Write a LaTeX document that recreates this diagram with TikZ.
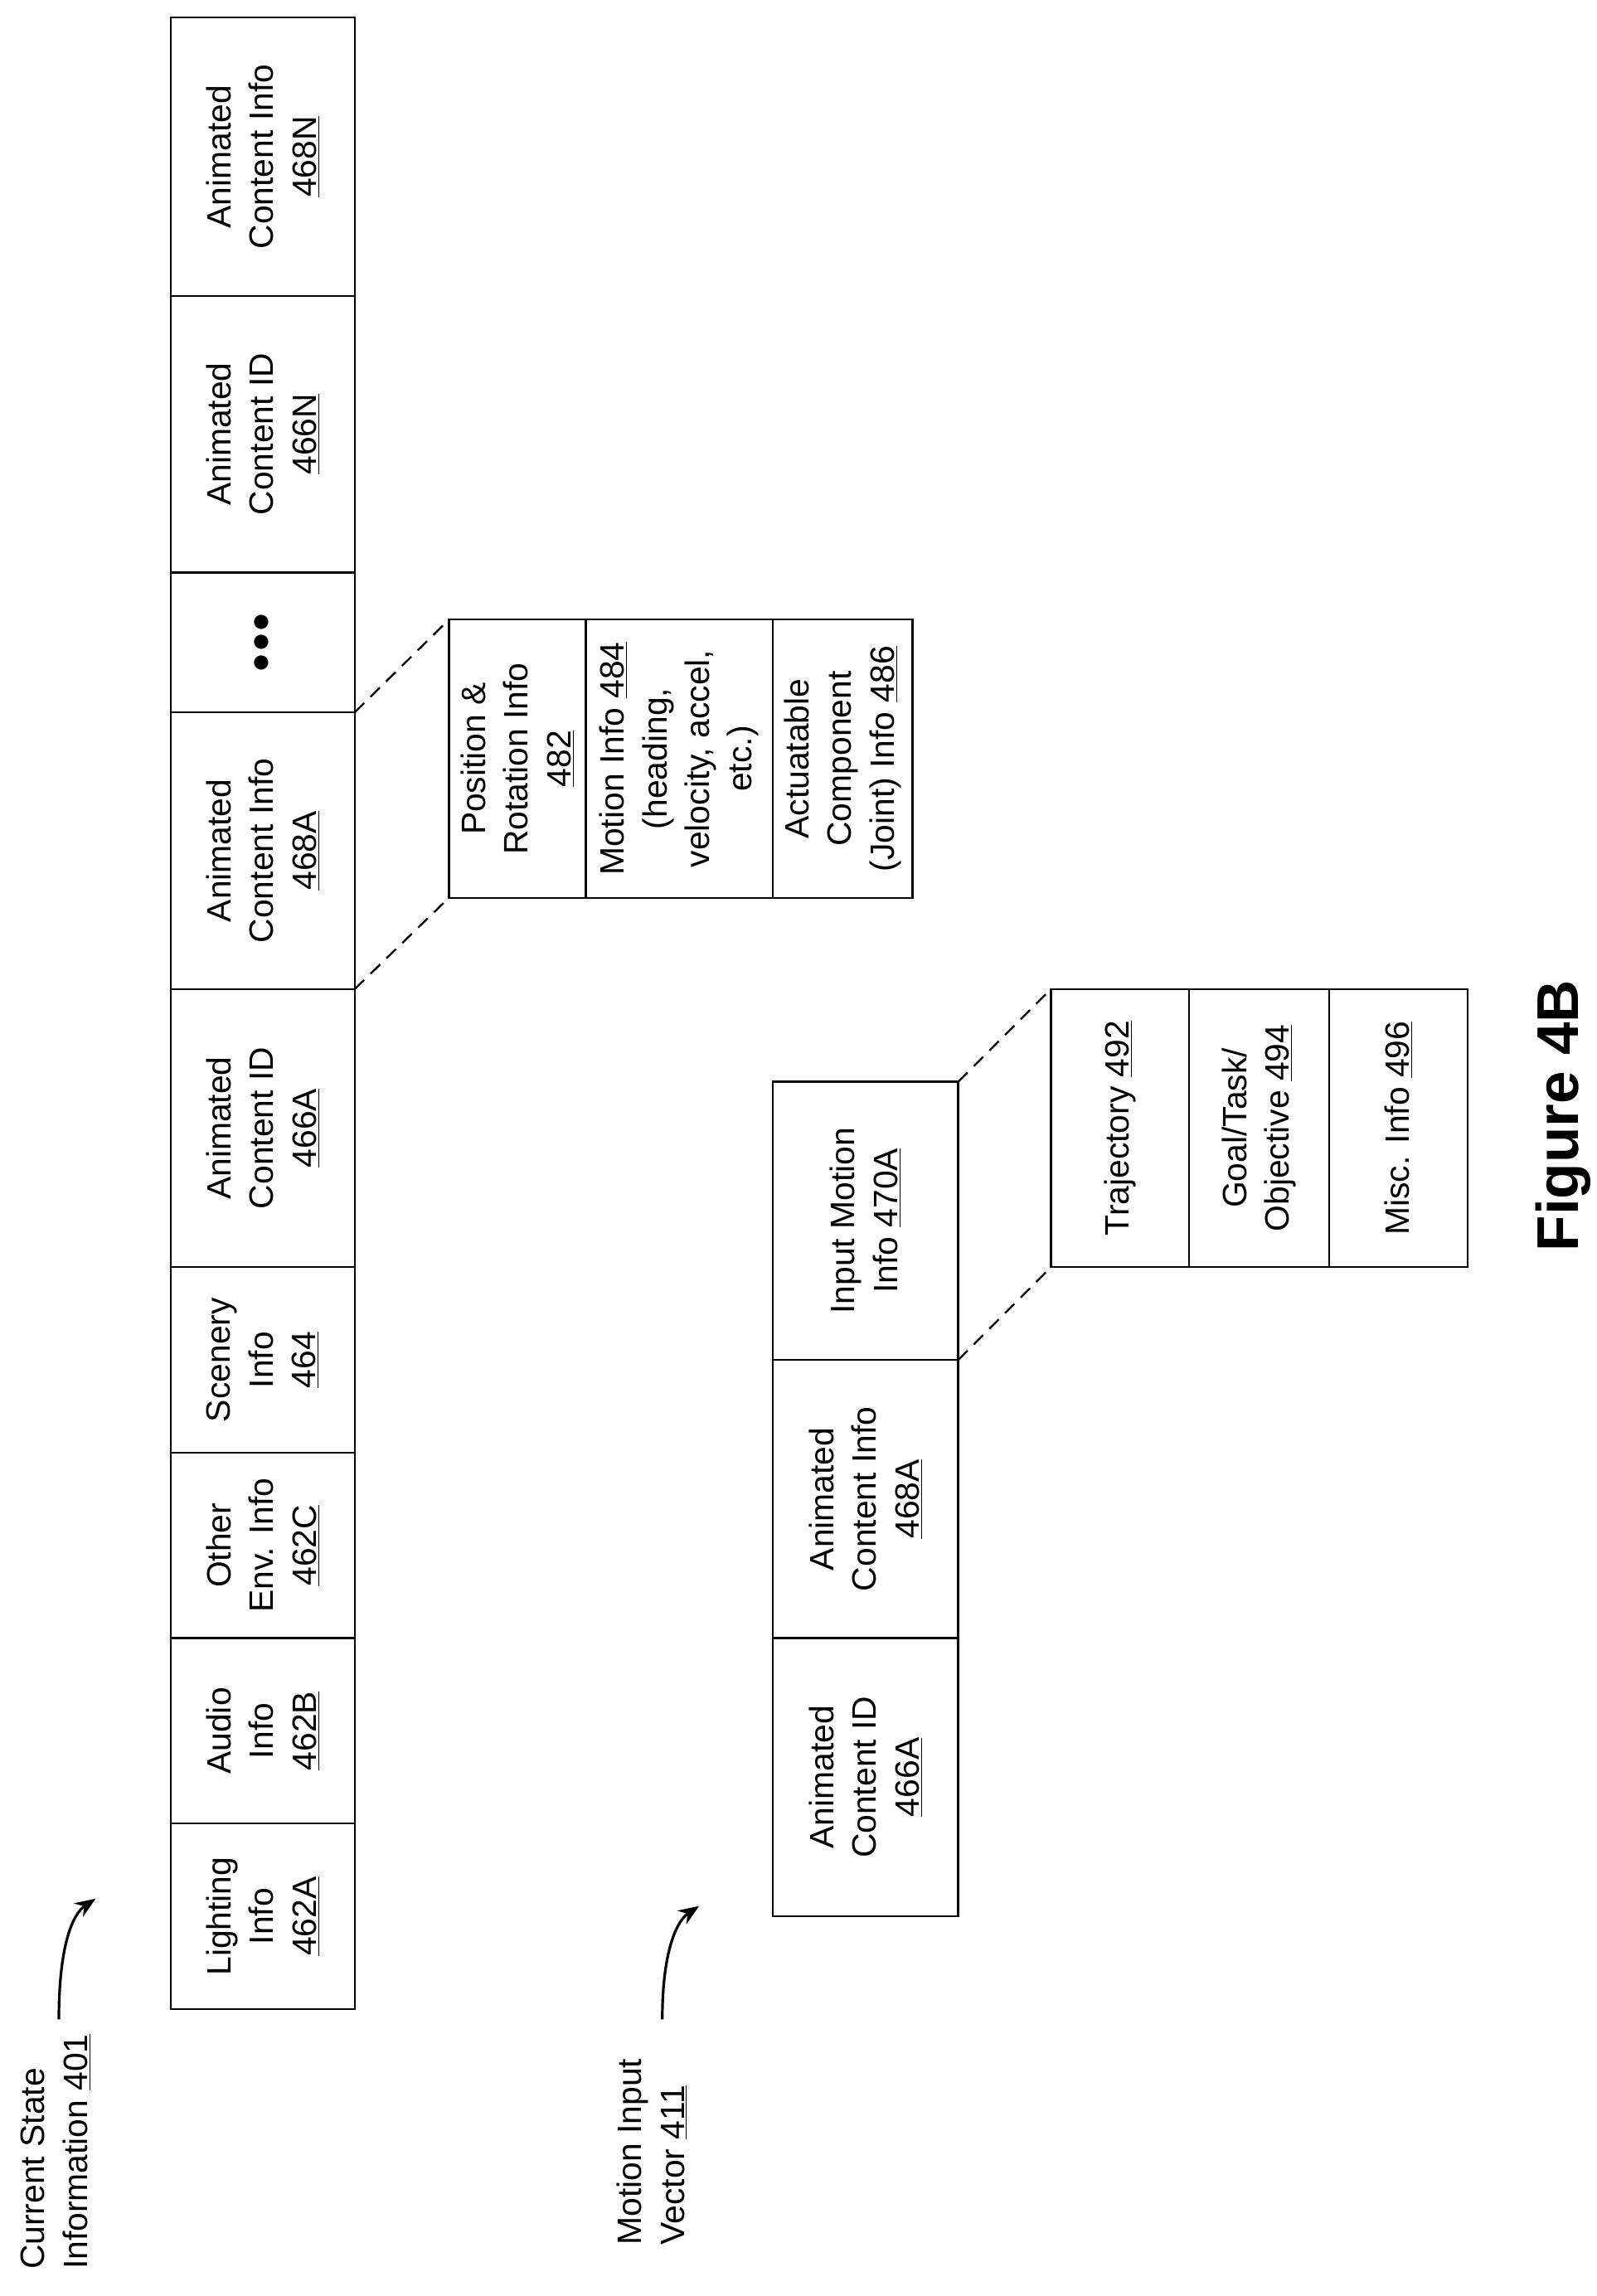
\documentclass[tikz,border=0pt]{standalone}
\usepackage{fontspec}
\setmainfont{Liberation Sans}
\usetikzlibrary{arrows.meta}
\begin{document}
\begin{tikzpicture}[x=1pt,y=-1pt,
  bx/.style={draw,line width=1.3pt},
  tx/.style={rotate=90,align=center,font=\fontsize{23}{29}\selectfont},
  dl/.style={dashed,line width=1.3pt,dash pattern=on 9pt off 6pt}]
\useasboundingbox (0,0) rectangle (1085,1560);
% top row
\foreach \a/\b/\t/\n in {12/201/{Animated\\Content Info\\\underline{468N}}/a1,
 201/389/{Animated\\Content ID\\\underline{466N}}/a2,
 484/672/{Animated\\Content Info\\\underline{468A}}/a4,
 672/861/{Animated\\Content ID\\\underline{466A}}/a5,
 861/987/{Scenery\\Info\\\underline{464}}/a6,
 987/1113/{Other\\Env. Info\\\underline{462C}}/a7,
 1113/1239/{Audio\\Info\\\underline{462B}}/a8,
 1239/1365/{Lighting\\Info\\\underline{462A}}/a9}{
 \draw[bx] (116,\a) rectangle (241,\b);
 \node[tx] (\n) at (178.5,{(\a+\b)/2}) {\t};}
\draw[bx] (116,389) rectangle (241,484);
\node[tx,font=\fontsize{40}{40}\selectfont] (a3) at (178.5,436.5) {$\bullet\!\bullet\!\bullet$};
% sub column 1
\foreach \a/\b/\t/\n in {305/398/{Position \&\\Rotation Info\\\underline{482}}/p1,
 398/525/{Motion Info \underline{484}\\(heading,\\velocity, accel,\\etc.)}/p2,
 525/620/{Actuatable\\Component\\(Joint) Info \underline{486}}/p3}{
 \draw[bx] (\a,421) rectangle (\b,610);
 \node[tx] (\n) at ({(\a+\b)/2},515.5) {\t};}
\coordinate (c1) at (241,484); \coordinate (c2) at (305,421);
\coordinate (c3) at (241,672); \coordinate (c4) at (305,610);
\draw[dl] (c1) -- (c2); \draw[dl] (c3) -- (c4);
% motion vector
\foreach \a/\b/\t/\n in {735/924/{Input Motion\\Info \underline{470A}}/m1,
 924/1113/{Animated\\Content Info\\\underline{468A}}/m2,
 1113/1302/{Animated\\Content ID\\\underline{466A}}/m3}{
 \draw[bx] (525,\a) rectangle (651,\b);
 \node[tx] (\n) at (588,{(\a+\b)/2}) {\t};}
\foreach \a/\b/\t/\n in {714/808/{Trajectory \underline{492}}/q1,
 808/903/{Goal/Task/\\Objective \underline{494}}/q2,
 903/997/{Misc. Info \underline{496}}/q3}{
 \draw[bx] (\a,672) rectangle (\b,861);
 \node[tx] (\n) at ({(\a+\b)/2},766.5) {\t};}
\coordinate (d1) at (651,735); \coordinate (d2) at (714,672);
\coordinate (d3) at (651,924); \coordinate (d4) at (714,861);
\draw[dl] (d1) -- (d2); \draw[dl] (d3) -- (d4);
% labels
\node[tx,align=left] (l1) at (38,1462) {Current State\\Information \underline{401}};
\node[tx,align=left] (l2) at (443,1462) {Motion Input\\Vector \underline{411}};
\coordinate (e1) at (40,1372); \coordinate (e2) at (65,1290);
\coordinate (f1) at (450,1372); \coordinate (f2) at (475,1295);
\draw[line width=1.8pt,-{Stealth[length=14pt,width=11pt]}] (e1) .. controls (40,1320) and (50,1300) .. (e2);
\draw[line width=1.8pt,-{Stealth[length=14pt,width=11pt]}] (f1) .. controls (450,1325) and (460,1305) .. (f2);
\node[rotate=90,font=\fontsize{40}{40}\selectfont\bfseries] (fig) at (1062,758) {Figure 4B};
\end{tikzpicture}
\end{document}
